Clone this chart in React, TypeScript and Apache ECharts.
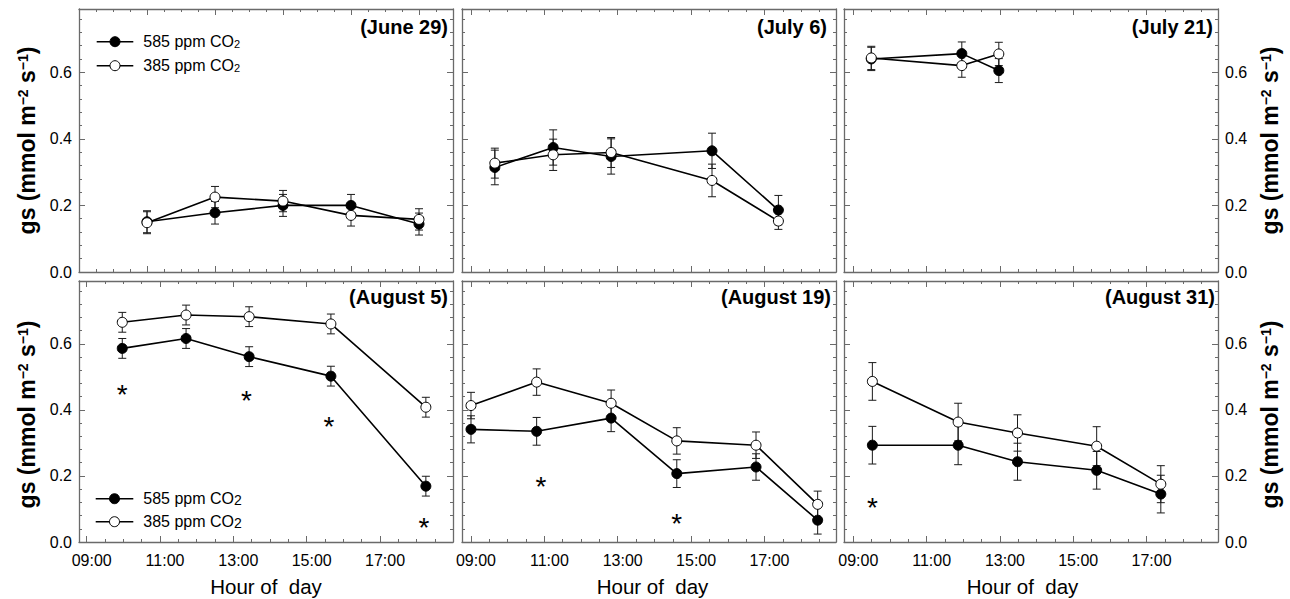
import React, { useEffect, useRef } from 'react';
import * as echarts from 'echarts';

const FONT = "'Liberation Sans', Arial, Helvetica, sans-serif";

// ---------- tick labels ----------
const xTickValues = [9, 11, 13, 15, 17];
const xTickLabels = ['09:00', '11:00', '13:00', '15:00', '17:00'];
const yTickValues = [0, 0.2, 0.4, 0.6];
const yTickLabels = ['0.0', '0.2', '0.4', '0.6'];
const yMax = 0.79;

// ---------- panels ----------
const panelTitles = ['(June 29)', '(July 6)', '(July 21)', '(August 5)', '(August 19)', '(August 31)'];
const xMin = [7.0, 8.755, 8.746, 8.79, 8.755, 8.746];
const xMax = [18.0, 18.95, 18.95, 18.99, 18.95, 18.95];

// June 29
const hoursJun29 = [9, 11, 13, 15, 17];
const highJun29 = [0.151, 0.178, 0.2, 0.2, 0.144];
const highErrJun29 = [0.033, 0.034, 0.033, 0.033, 0.033];
const lowJun29 = [0.148, 0.225, 0.213, 0.17, 0.158];
const lowErrJun29 = [0.033, 0.032, 0.032, 0.032, 0.032];

// July 6
const hoursJul6 = [9.65, 11.24, 12.82, 15.57, 17.38];
const highJul6 = [0.314, 0.374, 0.347, 0.364, 0.186];
const highErrJul6 = [0.052, 0.053, 0.053, 0.053, 0.044];
const lowJul6 = [0.327, 0.352, 0.359, 0.275, 0.153];
const lowErrJul6 = [0.045, 0.047, 0.045, 0.049, 0.025];

// July 21
const hoursJul21 = [9.49, 11.96, 12.97];
const highJul21 = [0.64, 0.656, 0.605];
const highErrJul21 = [0.035, 0.035, 0.036];
const lowJul21 = [0.643, 0.62, 0.655];
const lowErrJul21 = [0.035, 0.035, 0.035];

// August 5
const hoursAug5 = [9.97, 11.71, 13.43, 15.66, 18.25];
const highAug5 = [0.586, 0.616, 0.561, 0.502, 0.169];
const highErrAug5 = [0.03, 0.03, 0.03, 0.03, 0.03];
const lowAug5 = [0.665, 0.687, 0.682, 0.66, 0.408];
const lowErrAug5 = [0.03, 0.03, 0.03, 0.03, 0.03];
const starHoursAug5 = [9.97, 13.36, 15.61, 18.2];
const starValuesAug5 = [0.467, 0.45, 0.371, 0.066];

// August 19
const hoursAug19 = [9.0, 10.79, 12.82, 14.61, 16.77, 18.45];
const highAug19 = [0.341, 0.335, 0.375, 0.207, 0.227, 0.066];
const highErrAug19 = [0.041, 0.042, 0.041, 0.042, 0.04, 0.042];
const lowAug19 = [0.413, 0.484, 0.42, 0.306, 0.293, 0.114];
const lowErrAug19 = [0.04, 0.04, 0.04, 0.04, 0.04, 0.04];
const starHoursAug19 = [10.91, 14.61];
const starValuesAug19 = [0.189, 0.076];

// August 31
const hoursAug31 = [9.52, 11.86, 13.48, 15.64, 17.39];
const highAug31 = [0.293, 0.293, 0.243, 0.217, 0.145];
const highErrAug31 = [0.057, 0.059, 0.056, 0.057, 0.057];
const lowAug31 = [0.486, 0.363, 0.33, 0.29, 0.175];
const lowErrAug31 = [0.057, 0.057, 0.055, 0.059, 0.056];
const starHoursAug31 = [9.52];
const starValuesAug31 = [0.125];

const seriesNames = ['585 ppm CO2', '385 ppm CO2'];
const legendTexts = ['585 ppm CO', '385 ppm CO'];

const panels = [
  { hours: hoursJun29, high: highJun29, highErr: highErrJun29, low: lowJun29, lowErr: lowErrJun29, starH: [], starV: [] },
  { hours: hoursJul6, high: highJul6, highErr: highErrJul6, low: lowJul6, lowErr: lowErrJul6, starH: [], starV: [] },
  { hours: hoursJul21, high: highJul21, highErr: highErrJul21, low: lowJul21, lowErr: lowErrJul21, starH: [], starV: [] },
  { hours: hoursAug5, high: highAug5, highErr: highErrAug5, low: lowAug5, lowErr: lowErrAug5, starH: starHoursAug5, starV: starValuesAug5 },
  { hours: hoursAug19, high: highAug19, highErr: highErrAug19, low: lowAug19, lowErr: lowErrAug19, starH: starHoursAug19, starV: starValuesAug19 },
  { hours: hoursAug31, high: highAug31, highErr: highErrAug31, low: lowAug31, lowErr: lowErrAug31, starH: starHoursAug31, starV: starValuesAug31 },
];

// ---------- layout ----------
const colLeft = [79, 462, 844];
const colWidth = 374;
const rowTop = [9, 281];
const rowHeight = [263, 261];
const titleInset = [5, 9, 5, 5, 5, 3];
const xNameShift = [0, 3.5, -8.5];
const AXIS = '#6a6a6a';

function buildOption() {
  const grids: any[] = [];
  const xAxes: any[] = [];
  const yAxes: any[] = [];
  const series: any[] = [];
  const graphics: any[] = [];

  panels.forEach((p, i) => {
    const row = Math.floor(i / 3);
    const col = i % 3;
    const left = colLeft[col];
    const top = rowTop[row];
    const height = rowHeight[row];
    grids.push({ left, top, width: colWidth, height, show: false });

    const min = xMin[i];
    const max = xMax[i];
    const xMajor: number[] = [];
    const xMinor: number[] = [];
    for (let h = Math.ceil(min * 2) / 2; h <= max + 1e-9; h += 0.5) {
      xMinor.push(h);
      if (Math.abs((h % 2) - 1) < 1e-9) xMajor.push(h);
    }
    const yMajor = yTickValues.slice();
    const yMinor: number[] = [];
    for (let k = 0; k * 0.04 <= yMax + 1e-9; k++) yMinor.push(Math.round(k * 4) / 100);

    const baseX = {
      gridIndex: i, type: 'value', min, max,
      splitLine: { show: false },
      axisLine: { show: false, onZero: false },
      axisLabel: { show: false },
    };
    const lineStyle = { color: AXIS, width: 1.3 };
    const tickStyle = { color: AXIS, width: 1 };
    xAxes.push({
      ...baseX, position: 'bottom',
      axisLine: { show: true, onZero: false, lineStyle },
      axisTick: { show: true, inside: true, length: 6, customValues: xMajor, lineStyle: tickStyle },
      axisLabel: row === 1 ? {
        show: true, customValues: xTickValues, fontSize: 16, color: '#000', fontFamily: FONT, margin: 10,
        padding: [0, 0, 0, 10],
        formatter: (v: number) => { const k = xTickValues.indexOf(v); return k >= 0 ? xTickLabels[k] : ''; },
      } : { show: false },
    });
    xAxes.push({ ...baseX, position: 'bottom', axisTick: { show: true, inside: true, length: 3, customValues: xMinor, lineStyle: tickStyle } });
    xAxes.push({
      ...baseX, position: 'top',
      axisLine: { show: true, onZero: false, lineStyle },
      axisTick: { show: true, inside: true, length: 6, customValues: xMajor, lineStyle: tickStyle },
    });
    xAxes.push({ ...baseX, position: 'top', axisTick: { show: true, inside: true, length: 3, customValues: xMinor, lineStyle: tickStyle } });

    const baseY = {
      gridIndex: i, type: 'value', min: 0, max: yMax,
      splitLine: { show: false },
      axisLine: { show: false, onZero: false },
      axisLabel: { show: false },
    };
    const yLabel = (show: boolean) => show ? {
      show: true, customValues: yTickValues, fontSize: 16, color: '#000', fontFamily: FONT, margin: 7,
      formatter: (v: number) => { const k = yTickValues.indexOf(v); return k >= 0 ? yTickLabels[k] : ''; },
    } : { show: false };
    yAxes.push({
      ...baseY, position: 'left',
      axisLine: { show: true, onZero: false, lineStyle },
      axisTick: { show: true, inside: true, length: 6, customValues: yMajor, lineStyle: tickStyle },
      axisLabel: yLabel(col === 0),
    });
    yAxes.push({ ...baseY, position: 'left', axisTick: { show: true, inside: true, length: 3, customValues: yMinor, lineStyle: tickStyle } });
    yAxes.push({
      ...baseY, position: 'right',
      axisLine: { show: true, onZero: false, lineStyle },
      axisTick: { show: true, inside: true, length: 6, customValues: yMajor, lineStyle: tickStyle },
      axisLabel: yLabel(col === 2),
    });
    yAxes.push({ ...baseY, position: 'right', axisTick: { show: true, inside: true, length: 3, customValues: yMinor, lineStyle: tickStyle } });

    const xi = i * 4;
    const yi = i * 4;

    const errRender = (params: any, api: any) => {
      const x = api.value(0);
      const lo = api.coord([x, api.value(1)]);
      const hi = api.coord([x, api.value(2)]);
      const w = 4;
      const style = { stroke: '#1a1a1a', lineWidth: 1 };
      return {
        type: 'group',
        children: [
          { type: 'line', shape: { x1: hi[0], y1: hi[1], x2: lo[0], y2: lo[1] }, style },
          { type: 'line', shape: { x1: hi[0] - w, y1: hi[1], x2: hi[0] + w, y2: hi[1] }, style },
          { type: 'line', shape: { x1: lo[0] - w, y1: lo[1], x2: lo[0] + w, y2: lo[1] }, style },
        ],
      };
    };
    [[p.high, p.highErr], [p.low, p.lowErr]].forEach(([vals, errs]) => {
      series.push({
        type: 'custom', xAxisIndex: xi, yAxisIndex: yi, silent: true, z: 1,
        renderItem: errRender,
        encode: { x: 0, y: [1, 2] },
        data: p.hours.map((h, k) => [h, vals[k] - errs[k], vals[k] + errs[k]]),
      });
    });
    series.push({
      name: seriesNames[0], type: 'line', xAxisIndex: xi, yAxisIndex: yi, z: 3,
      data: p.hours.map((h, k) => [h, p.high[k]]),
      symbol: 'circle', symbolSize: 10,
      itemStyle: { color: '#000', borderColor: '#000', borderWidth: 1 },
      lineStyle: { color: '#000', width: 1.6 },
    });
    series.push({
      name: seriesNames[1], type: 'line', xAxisIndex: xi, yAxisIndex: yi, z: 4,
      data: p.hours.map((h, k) => [h, p.low[k]]),
      symbol: 'circle', symbolSize: 10,
      itemStyle: { color: '#fff', borderColor: '#000', borderWidth: 1 },
      lineStyle: { color: '#000', width: 1.6 },
    });
    if (p.starH.length) {
      series.push({
        type: 'custom', xAxisIndex: xi, yAxisIndex: yi, silent: true, z: 5,
        encode: { x: 0, y: 1 },
        data: p.starH.map((h, k) => [h, p.starV[k]]),
        renderItem: (params: any, api: any) => {
          const pt = api.coord([api.value(0), api.value(1)]);
          return {
            type: 'text', x: pt[0], y: pt[1] + 7,
            style: { text: '*', fontSize: 28, fontFamily: FONT, fill: '#000', align: 'center', verticalAlign: 'middle', textAlign: 'center', textVerticalAlign: 'middle' },
          };
        },
      });
    }

    // panel title
    graphics.push({
      type: 'text', x: left + colWidth - titleInset[i], y: top + (row === 0 ? 17.5 : 16), z: 10,
      style: {
        text: panelTitles[i], fontSize: 20, fontWeight: 'bold', fontFamily: FONT, fill: '#000',
        align: 'right', verticalAlign: 'middle', textAlign: 'right', textVerticalAlign: 'middle',
      },
    });
    if (row === 1) {
      graphics.push({
        type: 'text', x: left + colWidth / 2 + xNameShift[col], y: 586, z: 10,
        style: {
          text: 'Hour of  day', fontSize: 20.5, fontFamily: FONT, fill: '#000',
          align: 'center', verticalAlign: 'middle', textAlign: 'center', textVerticalAlign: 'middle',
        },
      });
    }
  });

  // y-axis titles
  const yTitleRich = {
    m: { fontSize: 23, fontWeight: 'bold', fontFamily: FONT, fill: '#000', color: '#000' },
    sup: { fontSize: 14, fontWeight: 'bold', fontFamily: FONT, fill: '#000', color: '#000', verticalAlign: 'top' },
  };
  const yTitleText = '{m|gs (mmol m}{sup|\u22122}{m| s}{sup|\u22121}{m|)}';
  [27, 1270].forEach((x) => {
    [0, 1].forEach((row) => {
      graphics.push({
        type: 'text', x, y: rowTop[row] + rowHeight[row] / 2 + (row === 1 ? 3 : 0), rotation: Math.PI / 2, z: 10,
        style: {
          text: yTitleText, rich: yTitleRich, fill: '#000',
          align: 'center', verticalAlign: 'middle', textAlign: 'center', textVerticalAlign: 'middle',
        },
      });
    });
  });

  // legends (panel 1 and panel 4)
  const legendSpecs = [
    { x0: 96.7, x1: 133.3, ys: [41.7, 65.7], tx: 143.3, sub: 11 },
    { x0: 95.7, x1: 133.3, ys: [498.7, 521.7], tx: 143.3, sub: 14 },
  ];
  legendSpecs.forEach((L) => {
    L.ys.forEach((y, k) => {
      graphics.push({ type: 'line', z: 10, shape: { x1: L.x0, y1: y, x2: L.x1, y2: y }, style: { stroke: '#000', lineWidth: 1.5 } });
      graphics.push({
        type: 'circle', z: 11, shape: { cx: (L.x0 + L.x1) / 2, cy: y, r: 5 },
        style: { fill: k === 0 ? '#000' : '#fff', stroke: '#000', lineWidth: 1 },
      });
      graphics.push({
        type: 'text', x: L.tx, y, z: 10,
        style: {
          text: `{n|${legendTexts[k]}}{s|2}`,
          rich: {
            n: { fontSize: 16, fontFamily: FONT, fill: '#000', color: '#000' },
            s: { fontSize: L.sub, fontFamily: FONT, fill: '#000', color: '#000', verticalAlign: 'bottom' },
          },
          align: 'left', verticalAlign: 'middle', textAlign: 'left', textVerticalAlign: 'middle',
        },
      });
    });
  });

  return {
    animation: false,
    backgroundColor: '#fff',
    textStyle: { fontFamily: FONT },
    grid: grids,
    xAxis: xAxes,
    yAxis: yAxes,
    series,
    graphic: graphics,
  };
}

export default function App() {
  const ref = useRef<HTMLDivElement>(null);
  useEffect(() => {
    if (!ref.current) return;
    const chart = echarts.init(ref.current, undefined, { renderer: 'svg' });
    chart.setOption(buildOption() as any);
    return () => chart.dispose();
  }, []);
  return (
    <div
      ref={ref}
      style={{ position: 'fixed', left: 0, top: 0, width: 1290, height: 599, background: '#fff' }}
    />
  );
}
